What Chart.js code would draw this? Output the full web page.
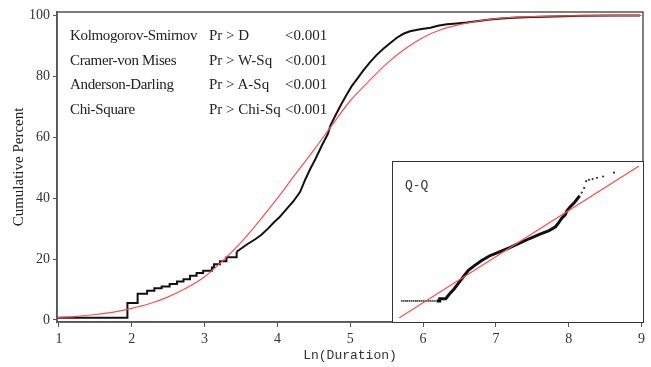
<!DOCTYPE html>
<html>
<head>
<meta charset="utf-8">
<script src="https://cdn.jsdelivr.net/npm/chart.js@4.4.0/dist/chart.umd.min.js"></script>
<style>
  html, body { margin: 0; padding: 0; background: #fff; }
  #wrap { position: relative; width: 651px; height: 367px; }
  #main { position: absolute; left: 0; top: 0; }
  .stat { position: absolute; font-family: "Liberation Serif", serif; font-size: 15px; line-height: 18px; color: #222; white-space: nowrap; }
  #inset { position: absolute; left: 392px; top: 161px; width: 250px; height: 160px; border: 1px solid #333; background: #fff; }
  #qq { position: absolute; left: 0; top: 0; }
  #qqLabel { position: absolute; left: 12px; top: 16px; font-family: "Liberation Mono", monospace; font-size: 13px; color: #333; }
</style>
</head>
<body>
<div id="wrap">
  <canvas id="main" width="651" height="367"></canvas>
  <div id="stats"></div>
  <div id="inset">
    <canvas id="qq" width="250" height="160"></canvas>
    <div id="qqLabel">Q-Q</div>
  </div>
</div>
<script>
// axis ticks
const xTicks = [1, 2, 3, 4, 5, 6, 7, 8, 9];
const yTicks = [0, 20, 40, 60, 80, 100];

// empirical cdf of ln(duration), jump points (percent)
const ecdfX = [0.97, 1.94, 2.08, 2.21, 2.31, 2.41, 2.52, 2.62, 2.71, 2.80, 2.89, 2.98, 3.10, 3.13,
  3.21, 3.30, 3.44, 3.58, 3.70, 3.78, 3.87, 3.95, 4.03, 4.13, 4.22, 4.31, 4.38, 4.45, 4.52,
  4.61, 4.69, 4.73, 4.81, 4.88, 4.95, 5.02, 5.09, 5.18, 5.27, 5.36, 5.45, 5.55, 5.64, 5.73,
  5.82, 5.96, 6.10, 6.22, 6.33, 6.46, 6.60, 6.76, 6.92, 7.08, 7.24, 7.50, 7.80, 8.20, 8.60, 8.98];
const ecdfY = [0.7, 5.6, 8.6, 9.6, 10.4, 11.0, 11.8, 12.6, 13.4, 14.5, 15.4, 16.2, 17.2, 18.3,
  19.3, 20.6, 22.4, 24.8, 26.6, 28.0, 30.0, 32.0, 33.8, 36.6, 39.0, 42.0, 46.0, 49.6, 52.8,
  57.3, 61.0, 64.0, 67.8, 71.0, 74.0, 76.8, 79.0, 82.0, 84.6, 87.0, 89.0, 91.0, 92.7, 94.0,
  94.8, 95.5, 96.0, 96.7, 97.1, 97.4, 97.7, 98.2, 98.7, 99.0, 99.3, 99.5, 99.7, 99.9, 100, 100];
// above this index the jumps are too fine to show as separate steps
const stepEnd = 16;

// fitted normal cdf (red)
const fitX = [0.97, 1.25, 1.5, 1.75, 2.0, 2.25, 2.5, 2.75, 3.0, 3.25, 3.5, 3.75, 4.0, 4.25,
  4.5, 4.75, 5.0, 5.25, 5.5, 5.75, 6.0, 6.25, 6.5, 6.75, 7.0, 7.5, 8.0, 9.0];
const fitY = [0.8, 1.2, 1.8, 2.6, 3.8, 5.4, 7.6, 10.5, 14.2, 19.5, 25.5, 32.5, 40.0, 48.0,
  55.8, 64.0, 72.0, 78.3, 84.2, 89.0, 92.8, 95.4, 97.0, 98.2, 99.0, 99.6, 99.9, 100];

// test table
const testNames = ["Kolmogorov-Smirnov", "Cramer-von Mises", "Anderson-Darling", "Chi-Square"];
const testStats = ["Pr > D", "Pr > W-Sq", "Pr > A-Sq", "Pr > Chi-Sq"];
const testP = ["<0.001", "<0.001", "<0.001", "<0.001"];

// Q-Q inset: normal quantile vs ln(duration) (rescaled)
const qqLineZ = [-2.95, 3.0];
const qqLineV = [0, 10];
const qqLowZ = [-2.88, -2.83, -2.78, -2.74, -2.69, -2.64, -2.59, -2.54, -2.50, -2.45, -2.40,
  -2.35, -2.30, -2.26, -2.21, -2.16, -2.11, -2.06];
const qqLowV = [1.125, 1.125, 1.125, 1.125, 1.125, 1.125, 1.125, 1.125, 1.125, 1.125, 1.125,
  1.125, 1.125, 1.125, 1.125, 1.125, 1.125, 1.125];
const qqMidZ = [-2.02, -1.94, -1.94, -1.79, -1.71, -1.59, -1.47, -1.35, -1.23, -1.07, -0.91,
  -0.71, -0.43, -0.19, 0.05, 0.29, 0.53, 0.77, 0.93, 1.01, 1.09, 1.17, 1.21, 1.29, 1.41, 1.53];
const qqMidV = [1.125, 1.125, 1.27, 1.27, 1.54, 1.89, 2.31, 2.73, 3.14, 3.46, 3.77,
  4.08, 4.39, 4.64, 4.94, 5.23, 5.50, 5.75, 6.00, 6.27, 6.58, 6.79, 7.04, 7.31, 7.63, 8.04];
const qqHighZ = [1.58, 1.64, 1.69, 1.76, 1.85, 1.96, 2.11, 2.38];
const qqHighV = [8.25, 8.56, 9.00, 9.09, 9.14, 9.22, 9.31, 9.56];

function pts(xs, ys) {
  return xs.map((x, i) => ({ x: x, y: ys[i] }));
}

// stats table as text
const statsBox = document.getElementById("stats");
const rowTop = [26, 50.5, 75, 99.5];
testNames.forEach((name, i) => {
  [[name, 70], [testStats[i], 209], [testP[i], 285]].forEach(([txt, left]) => {
    const d = document.createElement("div");
    d.className = "stat";
    d.style.left = left + "px";
    d.style.top = rowTop[i] + "px";
    d.textContent = txt;
    if (left === 70) d.style.letterSpacing = "-0.35px";
    statsBox.appendChild(d);
  });
});

// box round the plot area
const frame = {
  id: "frame",
  afterDraw(chart) {
    const { ctx, chartArea: a } = chart;
    ctx.save();
    ctx.strokeStyle = "#555";
    ctx.lineWidth = 1.5;
    ctx.strokeRect(a.left, a.top, a.right - a.left, a.bottom - a.top);
    ctx.restore();
  }
};

const tickFont = { family: "Liberation Serif", size: 14 };
const ecdfPts = pts(ecdfX, ecdfY);

new Chart(document.getElementById("main"), {
  type: "scatter",
  data: {
    datasets: [
      {
        data: pts(fitX, fitY),
        showLine: true,
        borderColor: "#ff4d4d",
        borderWidth: 1.2,
        pointRadius: 0,
        cubicInterpolationMode: "monotone"
      },
      {
        data: ecdfPts.slice(0, stepEnd + 1),
        showLine: true,
        stepped: "before",
        borderColor: "#111",
        borderWidth: 2,
        pointRadius: 0
      },
      {
        data: ecdfPts.slice(stepEnd),
        showLine: true,
        borderColor: "#111",
        borderWidth: 2,
        pointRadius: 0
      }
    ]
  },
  options: {
    responsive: false,
    animation: false,
    events: [],
    layout: { padding: { left: 0, top: 12, right: 8, bottom: 0 } },
    plugins: { legend: { display: false }, tooltip: { enabled: false } },
    scales: {
      x: {
        type: "linear",
        min: 0.973,
        max: 9.02,
        afterBuildTicks: s => { s.ticks = xTicks.map(v => ({ value: v })); },
        afterFit: s => { s.height = 45; },
        ticks: { font: tickFont, color: "#333", padding: 4, maxRotation: 0 },
        grid: { drawOnChartArea: false, drawTicks: true, tickLength: 5, color: "#555" },
        border: { display: true, color: "#555", width: 1.5 },
        title: {
          display: true,
          text: "Ln(Duration)",
          font: { family: "Liberation Mono", size: 13 },
          color: "#333",
          padding: { top: 0, bottom: 4 }
        }
      },
      y: {
        type: "linear",
        min: -0.66,
        max: 101.15,
        afterBuildTicks: s => { s.ticks = yTicks.map(v => ({ value: v })); },
        afterFit: s => { s.width = 57; },
        ticks: { font: tickFont, color: "#333", padding: 3 },
        grid: { drawOnChartArea: false, drawTicks: true, tickLength: 4, color: "#555" },
        border: { display: true, color: "#555", width: 1.5 },
        title: {
          display: true,
          text: "Cumulative Percent",
          font: { family: "Liberation Serif", size: 15 },
          color: "#222",
          padding: { top: 10, bottom: 0 }
        }
      }
    }
  },
  plugins: [frame]
});

new Chart(document.getElementById("qq"), {
  type: "scatter",
  data: {
    datasets: [
      {
        data: pts(qqLineZ, qqLineV),
        showLine: true,
        borderColor: "#ff4d4d",
        borderWidth: 1.2,
        pointRadius: 0
      },
      {
        data: pts(qqLowZ, qqLowV),
        pointRadius: 0.9,
        pointBorderWidth: 0,
        pointBackgroundColor: "#333"
      },
      {
        data: pts(qqMidZ, qqMidV),
        showLine: true,
        borderColor: "#111",
        borderWidth: 3,
        pointRadius: 0
      },
      {
        data: pts(qqHighZ, qqHighV),
        pointRadius: 1.1,
        pointBorderWidth: 0,
        pointBackgroundColor: "#333"
      }
    ]
  },
  options: {
    responsive: false,
    animation: false,
    events: [],
    layout: { padding: 0 },
    plugins: { legend: { display: false }, tooltip: { enabled: false } },
    scales: {
      x: { type: "linear", display: false, min: -3, max: 3 },
      y: { type: "linear", display: false, min: 0, max: 10 }
    }
  }
});
</script>
</body>
</html>
